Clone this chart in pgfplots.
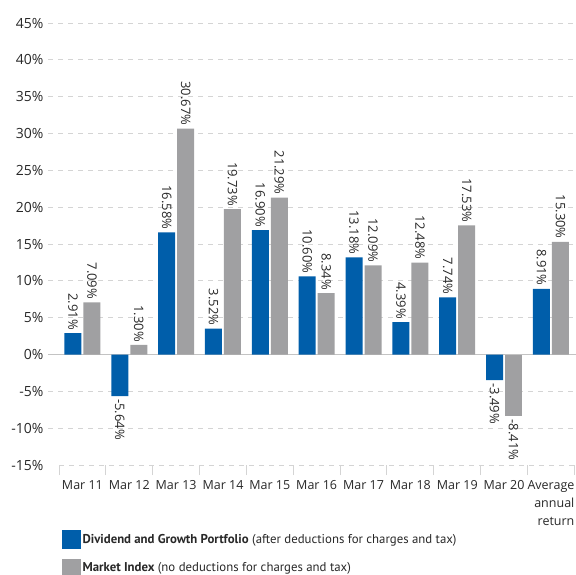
\documentclass[border=0pt]{standalone}
\usepackage{fontspec}
\setmainfont{PT Sans}
\newfontfamily\numfont{Open Sans}
\usepackage{pgfplots}
\pgfplotsset{compat=1.18}
\definecolor{dgblue}{RGB}{0,94,170}
\definecolor{mkgray}{RGB}{160,160,162}
\definecolor{gridgray}{RGB}{212,212,212}
\definecolor{zerogray}{RGB}{195,195,195}
\definecolor{txt}{RGB}{40,40,40}

\pgfplotstableread{
x y
0 2.91
2 16.58
3 3.52
4 16.90
5 10.60
6 13.18
7 4.39
8 7.74
10 8.91
}\bluepos
\pgfplotstableread{
x y
1 -5.64
9 -3.49
}\blueneg
\pgfplotstableread{
x y
0 7.09
1 1.30
2 30.67
3 19.73
4 21.29
5 8.34
6 12.09
7 12.48
8 17.53
10 15.30
}\graypos
\pgfplotstableread{
x y
9 -8.41
}\grayneg

\begin{document}
\begin{tikzpicture}
\begin{axis}[
  name=ax, at={(0,0)}, anchor=south west,
  scale only axis, width=528pt, height=442pt,
  xmin=-0.735, xmax=10.535, ymin=-15, ymax=45,
  ybar, bar width=17pt,
  axis line style={draw=none},
  every tick label/.append style={txt},
  /pgf/number format/assume math mode=true,
  ytick={-10,-5,...,45},
  extra y ticks={-15},
  extra y tick style={major grid style={draw=none}},
  yticklabel={\pgfmathprintnumber{\tick}\%},
  yticklabel style={font=\numfont\fontsize{14}{16}\selectfont, xshift=-1pt},
  ymajorgrids,
  major grid style={gridgray, line width=1pt, dash pattern=on 5pt off 5pt},
  major tick length=0pt,
  xtick={0,...,10},
  xticklabels={Mar 11,Mar 12,Mar 13,Mar 14,Mar 15,Mar 16,Mar 17,Mar 18,Mar 19,Mar 20,{Average\\annual\\return}},
  xticklabel style={align=right, yshift=-12pt, font=\numfont\fontsize{12.5}{18}\selectfont},
  minor xtick={-0.5,0.5,...,10.5},
  minor tick length=10pt, tick align=outside,
  xtick pos=bottom, ytick pos=left,
  minor tick style={gridgray, line width=1pt},
  nodes near coords={\pgfmathprintnumber[fixed,fixed zerofill,precision=2]{\pgfplotspointmeta}\%},
  nodes near coords style={rotate=-90, txt, font=\numfont\fontsize{13}{15}\selectfont, inner sep=3pt},
  legend style={at={(axis description cs:0.0265,-0.147)}, anchor=north west,
    draw=none, fill=none, inner sep=0pt, row sep=10pt,
    font=\fontsize{12.8}{15}\selectfont, text=txt},
  legend cell align=left,
]
\addlegendimage{legend image code/.code={\fill[dgblue] (0pt,-9pt) rectangle (18pt,9pt);}}
\addlegendentry{\textbf{Dividend and Growth Portfolio} (after deductions for charges and tax)}
\addlegendimage{legend image code/.code={\fill[mkgray] (0pt,-9pt) rectangle (18pt,9pt);}}
\addlegendentry{\textbf{Market Index} (no deductions for charges and tax)}

\draw[zerogray, line width=1.5pt] (axis cs:-0.735,0) -- (axis cs:10.535,0);
\draw[gridgray, line width=1pt, dash pattern=on 5pt off 5pt] (axis cs:-0.5,-15) -- (axis cs:10.535,-15);

\addplot[forget plot, fill=dgblue, draw=none, bar shift=-9.5pt,
  every node near coord/.append style={anchor=east}] table[x=x,y=y] {\bluepos};
\addplot[forget plot, fill=dgblue, draw=none, bar shift=-9.5pt,
  every node near coord/.append style={anchor=west}] table[x=x,y=y] {\blueneg};
\addplot[forget plot, fill=mkgray, draw=none, bar shift=9.5pt,
  every node near coord/.append style={anchor=east}] table[x=x,y=y] {\graypos};
\addplot[forget plot, fill=mkgray, draw=none, bar shift=9.5pt,
  every node near coord/.append style={anchor=west}] table[x=x,y=y] {\grayneg};
\end{axis}
\pgfresetboundingbox
\path (-48pt,-109pt) rectangle (528pt,465pt);
\end{tikzpicture}
\end{document}
